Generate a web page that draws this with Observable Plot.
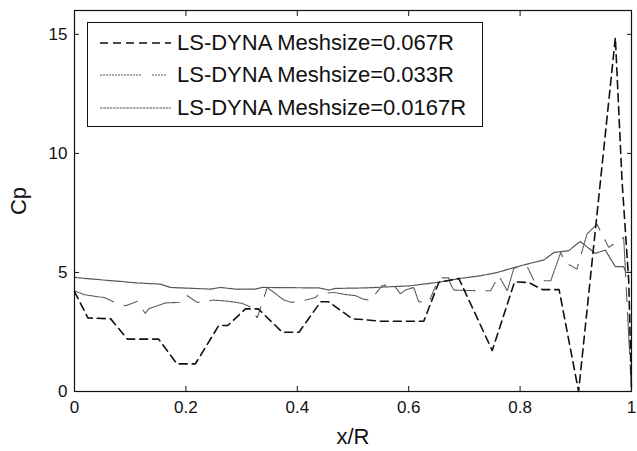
<!DOCTYPE html>
<html>
<head>
<meta charset="utf-8">
<script src="https://cdn.jsdelivr.net/npm/d3@7"></script>
<script src="https://cdn.jsdelivr.net/npm/@observablehq/plot@0.6"></script>
<style>
  html, body { margin: 0; padding: 0; background: #fff; }
  #wrap { position: relative; width: 637px; height: 451px; font-family: "Liberation Sans", Arial, sans-serif; }
  #legend { position: absolute; left: 87px; top: 22px; width: 396px; height: 105px; border: 1.2px solid #111; background: #fff; box-sizing: border-box; }
  .row { position: absolute; left: 0; height: 30px; width: 100%; }
  .row svg { position: absolute; left: 12px; top: 11px; }
  .row span { position: absolute; left: 89px; top: 1px; font-size: 22px; color: #111; white-space: nowrap; line-height: 26px; }
</style>
</head>
<body>
<div id="wrap"></div>
<script>
// Series labels
const seriesNames = ["LS-DYNA Meshsize=0.067R", "LS-DYNA Meshsize=0.033R", "LS-DYNA Meshsize=0.0167R"];

// Meshsize = 0.067R
const xR067 = [0, 0.024, 0.065, 0.095, 0.151, 0.184, 0.217, 0.259, 0.275, 0.307, 0.33, 0.373, 0.403, 0.442, 0.456, 0.499, 0.52, 0.549, 0.627, 0.654, 0.69, 0.75, 0.79, 0.815, 0.84, 0.87, 0.905, 0.971, 0.983, 0.995, 1.0];
const cp067 = [4.2, 3.09, 3.05, 2.2, 2.2, 1.16, 1.16, 2.77, 2.77, 3.47, 3.47, 2.49, 2.49, 3.77, 3.77, 3.05, 3.02, 2.95, 2.95, 4.58, 4.75, 1.72, 4.6, 4.58, 4.28, 4.28, 0, 14.86, 8.85, 4.65, 0];

// Meshsize = 0.033R
const xR033 = [0, 0.017, 0.041, 0.053, 0.068, 0.092, 0.113, 0.127, 0.133, 0.163, 0.19, 0.202, 0.22, 0.25, 0.277, 0.301, 0.316, 0.328, 0.346, 0.376, 0.39, 0.415, 0.433, 0.439, 0.466, 0.487, 0.504, 0.517, 0.531, 0.552, 0.57, 0.578, 0.585, 0.594, 0.609, 0.618, 0.636, 0.651, 0.66, 0.672, 0.675, 0.681, 0.726, 0.747, 0.762, 0.777, 0.789, 0.813, 0.825, 0.855, 0.873, 0.881, 0.902, 0.92, 0.938, 0.959, 0.986, 1.0];
const cp033 = [4.23, 4.07, 3.98, 3.95, 3.79, 3.6, 3.79, 3.28, 3.47, 3.72, 3.74, 4.03, 3.74, 3.84, 3.79, 3.7, 3.55, 3.09, 4.37, 3.84, 3.74, 3.84, 3.95, 4.1, 4.16, 4.07, 4.03, 3.89, 3.82, 4.44, 4.51, 4.33, 4.1, 4.26, 4.37, 3.77, 3.74, 4.58, 4.77, 4.77, 4.51, 4.26, 4.23, 4.23, 4.86, 4.23, 5.19, 5.24, 4.65, 4.65, 5.84, 5.42, 5.14, 6.61, 7.03, 6.05, 6.47, 0];

// Meshsize = 0.0167R
const xR0167 = [0, 0.053, 0.113, 0.154, 0.172, 0.244, 0.262, 0.289, 0.325, 0.337, 0.439, 0.457, 0.469, 0.522, 0.603, 0.651, 0.693, 0.729, 0.759, 0.801, 0.843, 0.861, 0.887, 0.908, 0.935, 0.953, 0.971, 0.986, 0.99, 1.0];
const cp0167 = [4.79, 4.68, 4.56, 4.51, 4.37, 4.3, 4.37, 4.3, 4.3, 4.37, 4.35, 4.26, 4.33, 4.35, 4.44, 4.58, 4.75, 4.86, 5.0, 5.28, 5.53, 5.84, 5.91, 6.3, 5.8, 5.94, 5.24, 5.24, 5.0, 5.0];

// Axis ticks
const xTicks = [0, 0.2, 0.4, 0.6, 0.8, 1];
const yTicks = [0, 5, 10, 15];

const toRows = (xs, ys) => xs.map((x, i) => ({x, y: ys[i]}));
const d067 = toRows(xR067, cp067);
const d033 = toRows(xR033, cp033);
const d0167 = toRows(xR0167, cp0167);

// dotted dash-dot pattern: long dotted dash, gap, short dotted dash, gap
const dots = n => Array(n).fill("2,1").join(",");
const dashDot = `${dots(13)},2,11,${dots(4)},2,11`;

const styles = [
  {stroke: "#111", strokeWidth: 1.6, dash: "8,5"},
  {stroke: "#555", strokeWidth: 1.1, dash: dashDot},
  {stroke: "#555", strokeWidth: 1.2, dash: "2.5,0.8"}
];

const plot = Plot.plot({
  width: 637,
  height: 451,
  marginLeft: 74,
  marginRight: 6,
  marginTop: 10,
  marginBottom: 60,
  style: {fontFamily: "'Liberation Sans', Arial, sans-serif", fontSize: "17px", color: "#111", background: "#fff"},
  x: {domain: [0, 1]},
  y: {domain: [0, 16]},
  marks: [
    Plot.line(d0167, {x: "x", y: "y", stroke: styles[2].stroke, strokeWidth: styles[2].strokeWidth, strokeDasharray: styles[2].dash}),
    Plot.line(d033, {x: "x", y: "y", stroke: styles[1].stroke, strokeWidth: styles[1].strokeWidth, strokeDasharray: styles[1].dash}),
    Plot.line(d067, {x: "x", y: "y", stroke: styles[0].stroke, strokeWidth: styles[0].strokeWidth, strokeDasharray: styles[0].dash}),
    Plot.frame({stroke: "#111", strokeWidth: 1.2}),
    Plot.axisX(xTicks, {anchor: "bottom", tickSize: -5, tickPadding: 14, tickFormat: d => String(d), label: "x/R", labelAnchor: "center", labelArrow: "none", labelOffset: 52}),
    Plot.axisX(xTicks, {anchor: "top", tickSize: -5, tickFormat: () => "", label: null}),
    Plot.axisY(yTicks, {anchor: "left", tickSize: -5, tickPadding: 12, tickFormat: d => String(d), label: "Cp", labelAnchor: "center", labelArrow: "none", labelOffset: 64}),
    Plot.axisY(yTicks, {anchor: "right", tickSize: -5, tickFormat: () => "", label: null})
  ]
});

const svg = d3.select(plot);
svg.selectAll('g[aria-label="x-axis label"] text, g[aria-label="y-axis label"] text')
  .attr("font-size", 22)
  .each(function() {
    const el = d3.select(this);
    el.text(el.text().replace(/\s*[→↑←↓]\s*/g, ""));
  });

const wrap = document.getElementById("wrap");
wrap.appendChild(plot);

// Legend overlay
const legend = document.createElement("div");
legend.id = "legend";
const rowTops = [6, 38, 71];
seriesNames.forEach((name, i) => {
  const row = document.createElement("div");
  row.className = "row";
  row.style.top = rowTops[i] + "px";
  const s = d3.create("svg").attr("width", 72).attr("height", 6);
  s.append("line").attr("x1", 0).attr("x2", 71).attr("y1", 3).attr("y2", 3)
    .attr("stroke", styles[i].stroke).attr("stroke-width", styles[i].strokeWidth)
    .attr("stroke-dasharray", styles[i].dash);
  row.appendChild(s.node());
  const t = document.createElement("span");
  t.textContent = name;
  row.appendChild(t);
  legend.appendChild(row);
});
wrap.appendChild(legend);
</script>
</body>
</html>
